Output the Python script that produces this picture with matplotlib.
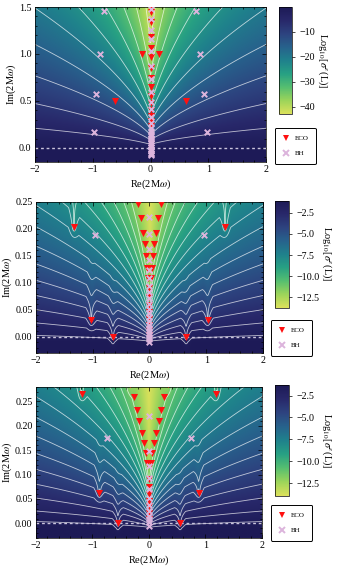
import numpy as np
import matplotlib.pyplot as plt
from matplotlib.colors import LinearSegmentedColormap
from matplotlib.lines import Line2D
from matplotlib.ticker import AutoMinorLocator

plt.rcParams['font.family'] = ['Liberation Serif', 'DejaVu Serif']
plt.rcParams['mathtext.fontset'] = 'stix'

# ---- data ----
# panel 1 (large range)
eco1_x = [-0.62, 0.62, -0.155, 0.155, 0.0, 0.0, 0.0, 0.0, 0.0, 0.0, 0.0, 0.0, 0.0, 0.0, 0.0, 0.0, 0.0, 0.0, 0.0]
eco1_y = [0.50, 0.50, 1.0, 1.0, 1.18, 1.486, 1.443, 1.336, 1.068, 0.97, 0.854, 0.747, 0.65, 0.55, 0.479, 0.407, 0.343, 0.29, 0.236]
bh1_x = [-0.973, 0.973, -0.944, 0.92, -0.874, 0.86, -0.80, 0.78,
         0, 0, 0, 0, 0, 0, 0, 0, 0, 0, 0, 0, 0, 0, 0, 0, 0, 0, 0, 0, 0, 0, 0, 0, 0, 0, 0]
bh1_y = [0.168, 0.168, 0.571, 0.571, 0.997, 1.0, 1.457, 1.457,
         1.48, 1.37, 1.26, 1.16, 1.03, 0.87, 0.73, 0.60, 0.49, 0.41, 0.33, 0.27, 0.21,
         0.18, 0.15, 0.13, 0.11, 0.09, 0.07, 0.05, 0.03, 0.01, -0.01, -0.03, -0.05, -0.07, -0.08]

# panel 2
eco2_x = [-1.33, 1.33, -1.025, 1.025, -0.645, 0.645,
          -0.20, 0.20, -0.155, 0.155, -0.115, 0.115, -0.08, 0.08, -0.055, 0.055, -0.04, 0.04, -0.025, 0.025,
          0, 0, 0, 0, 0, 0, 0, 0]
eco2_y = [0.203, 0.203, 0.032, 0.032, 0.0, 0.0,
          0.245, 0.245, 0.219, 0.219, 0.193, 0.193, 0.171, 0.171, 0.149, 0.149, 0.128, 0.128, 0.108, 0.108,
          0.09, 0.073, 0.058, 0.045, 0.033, 0.022, 0.012, 0.004]
bh2_x = [-0.965, 0.965] + [0] * 21
bh2_y = [0.189, 0.189, 0.222, 0.190, 0.163, 0.142, 0.124, 0.108, 0.094, 0.082, 0.071, 0.061,
         0.052, 0.044, 0.036, 0.029, 0.022, 0.016, 0.010, 0.005, 0.0, -0.005, -0.01]

# panel 3
eco3_x = [-1.19, 1.19, -0.88, 0.88, -0.55, 0.55,
          -0.33, 0.33, -0.257, 0.257, -0.206, 0.206, -0.171, 0.171, -0.125, 0.125, -0.088, 0.088,
          -0.053, 0.053, -0.04, 0.04, 0, 0, 0, 0, 0, 0, 0]
eco3_y = [0.266, 0.266, 0.063, 0.063, 0.0, 0.0,
          0.285, 0.285, 0.259, 0.259, 0.233, 0.233, 0.21, 0.21, 0.185, 0.185, 0.164, 0.164,
          0.144, 0.144, 0.123, 0.123, 0.091, 0.074, 0.06, 0.046, 0.036, 0.022, 0.008]
bh3_x = [-0.745, 0.745] + [0] * 12
bh3_y = [0.175, 0.175, 0.221, 0.149, 0.118, 0.092, 0.070, 0.053, 0.038, 0.026, 0.016, 0.008, 0.002, -0.005]

# colour ranges and contour levels
clim1 = (-43, 0)
clim2 = (-13.7, -1.1)
clim3 = (-13.9, -1.3)
cticks1 = [-10, -20, -30, -40]
cticks2 = [-2.5, -5.0, -7.5, -10.0, -12.5]
levels1 = [-40, -36, -32, -28, -24, -20, -16, -12, -8, -4]
levels2 = [-11.4, -10.7, -10.0, -9.3, -8.6, -7.9, -7.2, -6.5, -5.8, -5.1, -4.4, -3.7, -3.0, -2.3, -1.6]
levels3 = [-11.4, -10.7, -10.0, -9.3, -8.6, -7.9, -7.2, -6.5, -5.8, -5.1, -4.4, -3.7, -3.0, -2.3, -1.7]

cmap = LinearSegmentedColormap.from_list(
    'eco', ['#dbe15b', '#9bd45a', '#55be70', '#27a083', '#1f818c', '#27628c', '#2d437f', '#28286a', '#1d1a56'])


def field(X, Y, ex_list, ey_list, top, span, b, q, u0, yoff, depth):
    # smooth model of the pseudospectrum, with dips at the off-axis ECO modes
    u = np.clip(Y + yoff, 0, None) / (np.abs(X) + b) ** q
    v = top - span * (1 - np.exp(-u / u0))
    for ex, ey in zip(ex_list, ey_list):
        if abs(ex) < 0.3 or depth == 0:
            continue
        sy = np.where(Y > ey, 0.13, 0.03)
        d = np.sqrt(((X - ex) / 0.1) ** 2 + ((Y - ey) / sy) ** 2)
        v = v + depth * np.log10(np.clip(d, 2e-2, 1))
    return v


def panel(ax_rect, cb_rect, ylim, yticks, yfmt, clim, cticks, levels, fpar, eco_x, eco_y, bh_x, bh_y):
    ax = fig.add_axes(ax_rect)
    xs = np.linspace(-2, 2, 600)
    ys = np.linspace(ylim[0], ylim[1], 450)
    X, Y = np.meshgrid(xs, ys)
    V = field(X, Y, eco_x, eco_y, *fpar)
    im = ax.imshow(V, extent=(-2, 2, ylim[0], ylim[1]), origin='lower', aspect='auto',
                   cmap=cmap, vmin=clim[0], vmax=clim[1], interpolation='bilinear')
    ax.contour(X, Y, V, levels=sorted(levels), colors='white', linewidths=0.6, alpha=0.7,
               linestyles='solid')
    ax.axhline(0, color='#c9c3dc', lw=1.0, dashes=(2, 2))
    ax.scatter(eco_x, eco_y, marker='v', s=26, color='#ff1010', linewidths=0, zorder=4)
    ax.scatter(bh_x, bh_y, marker='x', s=16, color='#dcb4dc', linewidths=1.4, zorder=5)
    ax.set_xlim(-2, 2)
    ax.set_ylim(*ylim)
    ax.set_xticks([-2, -1, 0, 1, 2])
    ax.set_yticks(yticks)
    ax.set_yticklabels([yfmt % t for t in yticks])
    ax.xaxis.set_minor_locator(AutoMinorLocator(5))
    ax.yaxis.set_minor_locator(AutoMinorLocator(5))
    ax.tick_params(which='both', direction='in', top=True, right=True, labelsize=7.2, width=0.5, pad=2.5)
    ax.tick_params(which='major', length=3)
    ax.tick_params(which='minor', length=1.5)
    ax.set_xlabel(r'Re(2M$\omega$)', fontsize=7.5, labelpad=2)
    ax.set_ylabel(r'Im(2M$\omega$)', fontsize=7.5, labelpad=1)
    for s in ax.spines.values():
        s.set_linewidth(0.5)

    cax = fig.add_axes(cb_rect)
    cb = fig.colorbar(im, cax=cax, ticks=cticks)
    cb.ax.tick_params(labelsize=7.2, length=2, width=0.5)
    cb.outline.set_linewidth(0.5)
    cb.set_label(r'Log$_{10}$[$\sigma^{\epsilon}$(L)]', rotation=270, fontsize=7.5, labelpad=10)

    h = [Line2D([], [], marker='v', color='#ff1010', ls='none', markersize=5, markeredgewidth=0),
         Line2D([], [], marker='x', color='#dcb4dc', ls='none', markersize=4, markeredgewidth=1.4)]
    leg_x = (cb_rect[0] - 0.012 - ax_rect[0]) / ax_rect[2]
    ax.legend(h, ['ECO', 'BH'], loc='upper left', bbox_to_anchor=(leg_x, 0.22), fontsize=5,
              frameon=True, fancybox=True, edgecolor='black', framealpha=1, handlelength=1.0,
              borderpad=1.1, labelspacing=1.3, handletextpad=0.7, borderaxespad=0)
    ax.get_legend().get_frame().set_linewidth(0.7)
    return ax


fig = plt.figure(figsize=(3.38, 5.70), dpi=100)

panel([0.1036, 0.7158, 0.6834, 0.2719], [0.8254, 0.80, 0.0385, 0.1877], (-0.15, 1.5), [0.0, 0.5, 1.0, 1.5], '%.1f',
      clim1, cticks1, levels1, (-0.5, 43, 0.12, 0.6, 1.57, 0.0, 0), eco1_x, eco1_y, bh1_x, bh1_y)
panel([0.1065, 0.3807, 0.6716, 0.2654], [0.8136, 0.4602, 0.0414, 0.1877], (-0.03, 0.25),
      [0.0, 0.05, 0.10, 0.15, 0.20, 0.25], '%.2f',
      clim2, cticks2, levels2, (-1.2, 12.5, 0.05, 0.54, 0.263, 0.01, 1.1), eco2_x, eco2_y, bh2_x, bh2_y)
panel([0.1065, 0.0561, 0.6686, 0.2654], [0.8136, 0.1304, 0.0414, 0.1942], (-0.03, 0.28),
      [0.0, 0.05, 0.10, 0.15, 0.20, 0.25], '%.2f',
      clim3, cticks2, levels3, (-1.3, 12.6, 0.05, 0.54, 0.29, 0.01, 1.1), eco3_x, eco3_y, bh3_x, bh3_y)

fig.savefig('out.png', dpi=100)
